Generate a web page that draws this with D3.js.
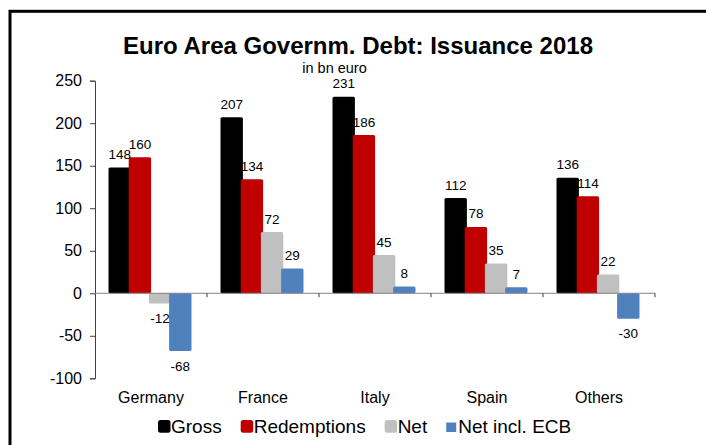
<!DOCTYPE html>
<html>
<head>
<meta charset="utf-8">
<script src="https://cdn.jsdelivr.net/npm/d3@7"></script>
<style>
  html, body { margin: 0; padding: 0; background: #fff; }
  svg { display: block; font-family: "Liberation Sans", Arial, sans-serif; }
</style>
</head>
<body>
<svg id="chart" width="706" height="445"></svg>
<script>
// Euro area government debt issuance 2018, in bn euro
const countries = ["Germany", "France", "Italy", "Spain", "Others"];
const seriesNames = ["Gross", "Redemptions", "Net", "Net incl. ECB"];
const gross       = [148, 207, 231, 112, 136];
const redemptions = [160, 134, 186, 78, 114];
const net         = [-12, 72, 45, 35, 22];
const netInclEcb  = [-68, 29, 8, 7, -30];
const yTicks = [250, 200, 150, 100, 50, 0, -50, -100];
const seriesColors = ["#000000", "#C00000", "#C0C0C0", "#4F81BD"];

const seriesValues = [gross, redemptions, net, netInclEcb];

const svg = d3.select("#chart");

// outer frame (runs past the right and bottom edges)
svg.append("rect")
  .attr("x", 10).attr("y", 11.3)
  .attr("width", 760).attr("height", 500)
  .attr("fill", "none").attr("stroke", "#000").attr("stroke-width", 3);

// title + subtitle
svg.append("text")
  .attr("x", 358).attr("y", 53.5)
  .attr("text-anchor", "middle")
  .attr("font-size", 24).attr("font-weight", "bold")
  .text("Euro Area Governm. Debt: Issuance 2018");

svg.append("text")
  .attr("x", 334.5).attr("y", 72.5)
  .attr("text-anchor", "middle")
  .attr("font-size", 14.5)
  .text("in bn euro");

const left = 95, right = 655;
const y = d3.scaleLinear().domain([-100, 250]).range([378.3, 80.7]);
const x = d3.scaleBand().domain(countries).range([left, right]).padding(0);

// bars inside each band: 4 slightly overlapping columns
const groupInset = 13.5, groupWidth = 83, barW = 22.4;
const barStep = (groupWidth - barW) / (seriesNames.length - 1);

// y axis
const yAxis = d3.axisLeft(y).tickValues(yTicks).tickSize(5).tickPadding(8).tickFormat(d => String(d));
const gy = svg.append("g").attr("transform", `translate(${left},0)`).call(yAxis);
gy.select(".domain").attr("stroke", "#404040");
gy.selectAll(".tick line").attr("stroke", "#404040");
gy.selectAll(".tick text").attr("font-size", 16).attr("fill", "#000")
  .attr("font-family", "'Liberation Sans', Arial, sans-serif");

// bars
const bars = svg.append("g");
seriesValues.forEach((vals, si) => {
  bars.selectAll(null)
    .data(countries.map((c, i) => ({ c, v: vals[i] })))
    .enter().append("rect")
    .attr("x", d => x(d.c) + groupInset + si * barStep)
    .attr("y", d => y(Math.max(0, d.v)))
    .attr("width", barW)
    .attr("height", d => Math.abs(y(d.v) - y(0)))
    .attr("rx", 1.5)
    .attr("fill", seriesColors[si]);
});

// zero line with category ticks
const xAxis = d3.axisBottom(x).tickSize(4).tickFormat("");
const gx = svg.append("g").attr("transform", `translate(0,${y(0)})`).call(xAxis);
gx.select(".domain").attr("stroke", "#808080").attr("d", `M${left},0H${right}`);
gx.selectAll(".tick").remove();
gx.selectAll(null).data(countries).enter().append("line")
  .attr("x1", d => x(d) + x.bandwidth()).attr("x2", d => x(d) + x.bandwidth())
  .attr("y1", 0).attr("y2", 4).attr("stroke", "#404040");

// category labels
svg.append("g").selectAll("text").data(countries).enter().append("text")
  .attr("x", d => x(d) + x.bandwidth() / 2)
  .attr("y", 403)
  .attr("text-anchor", "middle")
  .attr("font-size", 16)
  .text(d => d);

// value labels
const labels = svg.append("g");
seriesValues.forEach((vals, si) => {
  labels.selectAll(null)
    .data(countries.map((c, i) => ({ c, v: vals[i] })))
    .enter().append("text")
    .attr("x", d => x(d.c) + groupInset + si * barStep + barW / 2)
    .attr("y", d => d.v >= 0 ? y(d.v) - 8.5 : y(d.v) + 19.5)
    .attr("text-anchor", "middle")
    .attr("font-size", 13.5)
    .text(d => d.v);
});

// legend
const legend = svg.append("g");
let lx = 158;
seriesNames.forEach((name, i) => {
  const small = i === 3;
  const sq = small ? 10 : 12.5;
  legend.append("rect")
    .attr("x", lx).attr("y", small ? 422.5 : 420)
    .attr("width", sq).attr("height", small ? 9.5 : 12.7)
    .attr("rx", small ? 0 : 2.5)
    .attr("fill", seriesColors[i]);
  const t = legend.append("text")
    .attr("x", lx + sq + (small ? 2 : 0.5)).attr("y", 432.5)
    .attr("font-size", 19)
    .text(name);
  lx += sq + (small ? 2 : 0.5) + t.node().getComputedTextLength() + 19;
});
</script>
</body>
</html>
